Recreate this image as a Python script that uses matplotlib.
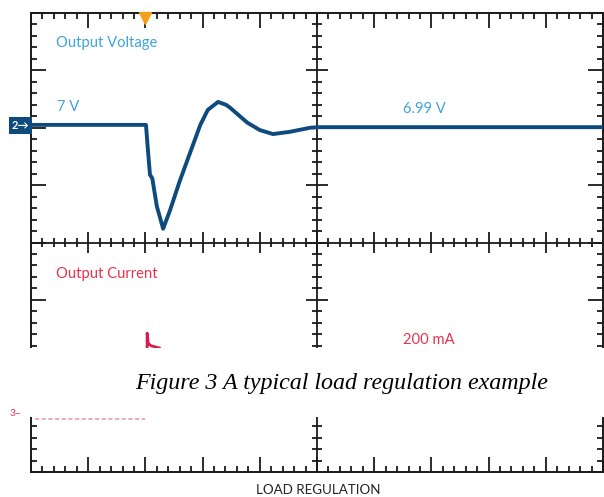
"""Oscilloscope capture: load regulation step (output voltage and current)."""

import matplotlib.pyplot as plt
from matplotlib.patches import Rectangle
from matplotlib.ticker import MultipleLocator
from matplotlib.transforms import blended_transform_factory

# screen is 10 x 8 divisions; values below are in divisions
volt_t = [0.03, 2.01, 2.03, 2.06, 2.08, 2.12, 2.20, 2.31, 2.43, 2.60, 2.78,
          2.96, 3.09, 3.27, 3.41, 3.48, 3.78, 4.00, 4.23, 4.53, 4.88, 5.02, 10.0]
volt_v = [2.05, 2.05, 1.79, 1.42, 1.18, 1.12, 0.63, 0.24, 0.56, 1.07, 1.56,
          2.05, 2.31, 2.45, 2.40, 2.35, 2.09, 1.96, 1.89, 1.93, 2.00, 2.01, 2.01]

curr_pre_t = [0.07, 2.0]
curr_pre_v = [-3.08, -3.08]
curr_t = [2.03, 2.03, 2.05, 2.10, 2.25, 2.32, 10.0]
curr_v = [-2.40, -1.58, -1.76, -1.80, -1.84, -2.00, -2.00]

VOLT_COLOR = "#0d4a7e"
BLUE_TEXT = "#3fa4db"
RED_TEXT = "#e6334d"
RED_TRACE = "#d81b4c"
GRID = "#1a1a1a"

plt.rcParams["font.family"] = ["Lato", "DejaVu Sans"]

fig = plt.figure(figsize=(6.04, 4.97), dpi=100)
W, H = 604, 497
ax = fig.add_axes([31 / W, 1 - 472 / H, 572 / W, 459 / H])
ax.set_xlim(0, 10)
ax.set_ylim(-4, 4)

for s in ax.spines.values():
    s.set_linewidth(1.4)
    s.set_color(GRID)
ax.xaxis.set_major_locator(MultipleLocator(1))
ax.xaxis.set_minor_locator(MultipleLocator(0.2))
ax.yaxis.set_major_locator(MultipleLocator(1))
ax.yaxis.set_minor_locator(MultipleLocator(0.2))
ax.tick_params(which="both", direction="in", top=True, right=True,
               labelbottom=False, labelleft=False, color=GRID, width=1.3)
ax.tick_params(which="major", length=11)
ax.tick_params(which="minor", length=4.5)

# centre crosshair with its own ticks
ax.axvline(5, color=GRID, lw=1.3)
ax.axhline(0, color=GRID, lw=1.3)
px_x, px_y = 57.2, 57.4
xs = [i * 0.2 for i in range(1, 50)]
ys = [i * 0.2 - 4 for i in range(1, 40)]
for x in xs:
    h = (11 if abs(x - round(x)) < 1e-6 else 5) / px_y
    ax.vlines(x, -h, h, color=GRID, lw=1.3)
for y in ys:
    w = (11 if abs(y - round(y)) < 1e-6 else 5) / px_x
    ax.hlines(y, 5 - w, 5 + w, color=GRID, lw=1.3)

# traces
ax.plot(volt_t, volt_v, color=VOLT_COLOR, lw=2.8, solid_joinstyle="round", zorder=5)
ax.plot(curr_pre_t, curr_pre_v, color="#eb9db0", lw=1.2, ls=(0, (2.5, 1.5)), zorder=5)
ax.plot(curr_t, curr_v, color=RED_TRACE, lw=2.0, zorder=5)

# trigger marker
ax.plot([2.0], [3.92], marker="v", ms=9, color="#f5a01a", clip_on=False, zorder=6)

# channel markers
tr = blended_transform_factory(ax.transAxes, ax.transData)
ax.text(-0.003, 2.04, "2\u2192", transform=tr, ha="right", va="center",
        color="white", fontsize=8, fontweight="bold",
        bbox=dict(boxstyle="square,pad=0.25", fc=VOLT_COLOR, ec="none"),
        clip_on=False, zorder=7)

ax.text(0.44, 3.48, "Output Voltage", color=BLUE_TEXT, fontsize=10.6, va="center")
ax.text(0.46, 2.37, "7 V", color=BLUE_TEXT, fontsize=10.6, va="center")
ax.text(6.5, 2.33, "6.99 V", color=BLUE_TEXT, fontsize=10.6, va="center")
ax.text(0.44, -0.55, "Output Current", color=RED_TEXT, fontsize=10.6, va="center")
ax.text(6.5, -1.70, "200 mA", color=RED_TEXT, fontsize=10.6, va="center")

# white band pasted over the capture, with the figure caption
fig.add_artist(Rectangle((0, 1 - 417 / H), 1, 69 / H, transform=fig.transFigure,
                         fc="white", ec="none", zorder=20))
fig.text(342 / W, 1 - 383 / H, "Figure 3 A typical load regulation example",
         family="Liberation Serif", style="italic", fontsize=17.3,
         ha="center", va="center", zorder=21)
fig.text(10 / W, 1 - 414 / H, "3\u2013", color=RED_TEXT, fontsize=7.5,
         ha="left", va="center", zorder=21)

fig.text(318 / W, 1 - 490 / H, "LOAD REGULATION", fontsize=9.6, color="#222222",
         ha="center", va="center")

fig.savefig("out.png", dpi=100)
